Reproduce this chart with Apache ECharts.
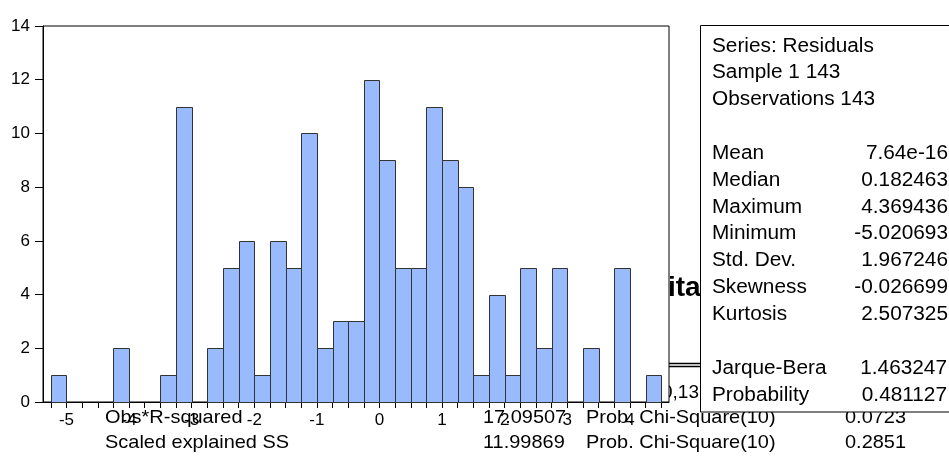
<!DOCTYPE html>
<html>
<head>
<meta charset="utf-8">
<script src="https://cdn.jsdelivr.net/npm/echarts@6/dist/echarts.min.js"></script>
<style>
html,body{margin:0;padding:0;background:#fff}
#main{width:949px;height:456px}
</style>
</head>
<body>
<div id="main"></div>
<script>
// histogram of residuals, bins of 0.25
var binStart = -5.25;
var binWidth = 0.25;
var counts = [1,0,0,0,2,0,0,1,11,0,2,5,6,1,6,5,10,2,3,
              3,12,9,5,5,11,9,8,1,4,1,5,2,5,0,2,0,5,0,1];
var xLabels = [-5,-4,-3,-2,-1,0,1,2,3,4];

var headLines = ["Series: Residuals", "Sample 1 143", "Observations 143"];
var statNames = ["Mean","Median","Maximum","Minimum","Std. Dev.","Skewness","Kurtosis"];
var statValues = ["7.64e-16","0.182463","4.369436","-5.020693","1.967246","-0.026699","2.507325"];
var jbNames = ["Jarque-Bera","Probability"];
var jbValues = ["1.463247","0.481127"];

// leftover text from the table underneath
var testNames = ["Obs*R-squared","Scaled explained SS"];
var testValues = ["17.09507","11.99869"];
var testProbNames = ["Prob. Chi-Square(10)","Prob. Chi-Square(10)"];
var testProbs = ["0.0723","0.2851"];

var bins = [], edges = [];
for (var i = 0; i < counts.length; i++) {
  bins.push([binStart + i * binWidth, binStart + (i + 1) * binWidth, counts[i]]);
}
for (var j = 0; j <= counts.length; j++) {
  edges.push(binStart + j * binWidth);
}

var font = "'Liberation Sans', Arial, sans-serif";
var rowH = 26.85;

var graphics = [];
// stuff behind the plot
graphics.push({type:"text", z:-1, x:668, y:288, style:{text:"ita", font:"bold 28px 'Liberation Sans Narrow', " + font, fill:"#000", textVerticalAlign:"middle"}});
graphics.push({type:"line", z:-1, shape:{x1:669, y1:363.5, x2:702, y2:363.5}, style:{stroke:"#000", lineWidth:1.3}});
graphics.push({type:"line", z:-1, shape:{x1:669, y1:366.5, x2:702, y2:366.5}, style:{stroke:"#000", lineWidth:1.3}});
graphics.push({type:"text", z:-1, x:662, y:393, style:{text:"0,13", font:"19px " + font, fill:"#000", textVerticalAlign:"middle"}});

// test rows
function testText(txt, x, y) {
  graphics.push({type:"text", z:5, x:x, y:y, scaleX:1.05, style:{text:txt, font:"19px " + font, fill:"#000", textVerticalAlign:"middle"}});
}
for (var k = 0; k < testNames.length; k++) {
  var ty = 418 + k * 25;
  testText(testNames[k], 105, ty);
  testText(testValues[k], 483, ty);
  testText(testProbNames[k], 586, ty);
  testText(testProbs[k], 845, ty);
}

// stats box
graphics.push({type:"rect", z:10, shape:{x:700.5, y:25.5, width:270, height:386.5}, style:{fill:"#fff", stroke:"#000", lineWidth:1}});
function statText(txt, x, row, align) {
  graphics.push({type:"text", z:11, x:x, y:46 + row * rowH, scaleX:1.04, style:{text:txt, font:"20px " + font, fill:"#000", textAlign:align, textVerticalAlign:"middle"}});
}
for (var h = 0; h < headLines.length; h++) statText(headLines[h], 712, h, "left");
for (var s = 0; s < statNames.length; s++) {
  statText(statNames[s], 712, s + 4, "left");
  statText(statValues[s], 948, s + 4, "right");
}
for (var b = 0; b < jbNames.length; b++) {
  statText(jbNames[b], 712, b + 12, "left");
  statText(jbValues[b], 947, b + 12, "right");
}

var myChart = echarts.init(document.getElementById("main"));
var option = {
  backgroundColor: "#fff",
  animation: false,
  grid: {
    left: 43,
    right: 280,
    top: 26,
    bottom: 54,
    show: true,
    backgroundColor: "#fff",
    borderColor: "#000",
    borderWidth: 1
  },
  xAxis: {
    type: "value",
    min: -5.375,
    max: 4.625,
    splitLine: {show: false},
    axisLine: {onZero: false, lineStyle: {color: "#000"}},
    axisTick: {show: true, length: 6, customValues: edges, lineStyle: {color: "#000"}},
    axisLabel: {customValues: xLabels, margin: 10, fontSize: 17, color: "#000"}
  },
  yAxis: {
    type: "value",
    min: 0,
    max: 14,
    interval: 2,
    splitLine: {show: false},
    axisLine: {show: true, onZero: false, lineStyle: {color: "#000"}},
    axisTick: {show: true, length: 8, lineStyle: {color: "#000"}},
    axisLabel: {margin: 13, fontSize: 17, color: "#000"}
  },
  graphic: graphics,
  series: [
    {
      type: "custom",
      renderItem: function(params, api) {
        var c = api.value(2);
        if (!c) return null;
        var p1 = api.coord([api.value(0), c]);
        var p2 = api.coord([api.value(1), 0]);
        var x0 = Math.round(p1[0]) + 0.5, x1 = Math.round(p2[0]) + 0.5;
        var y0 = Math.round(p1[1]) + 0.5, y1 = Math.round(p2[1]) + 0.5;
        return {
          type: "rect",
          shape: {x: x0, y: y0, width: x1 - x0, height: y1 - y0},
          style: {fill: "#99bbfd", stroke: "#333", lineWidth: 1}
        };
      },
      encode: {x: [0, 1], y: 2},
      data: bins
    }
  ]
};
myChart.setOption(option);
</script>
</body>
</html>
